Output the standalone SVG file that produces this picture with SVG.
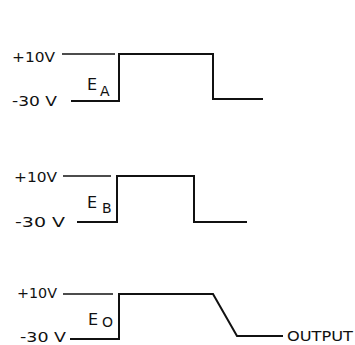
<svg xmlns="http://www.w3.org/2000/svg" width="355" height="345" viewBox="0 0 355 345">
<style>
text{font-family:"DejaVu Sans","Liberation Sans",sans-serif;fill:#111;font-size:14px}
.e{font-size:16px}
.sub{font-size:14px}
.ref{stroke:#111;stroke-width:1.4;fill:none}
.wave{stroke:#111;stroke-width:2;fill:none;stroke-linejoin:miter}
</style>
<rect width="355" height="345" fill="#fff"/>
<g id="EA">
<text x="12" y="62" textLength="43" lengthAdjust="spacingAndGlyphs">+10V</text>
<text x="12" y="106" textLength="45" lengthAdjust="spacingAndGlyphs">-30 V</text>
<text class="e" x="87" y="90">E</text>
<text class="sub" x="100" y="96">A</text>
</g>
<g id="EB">
<text x="14" y="182" textLength="43" lengthAdjust="spacingAndGlyphs">+10V</text>
<text x="15" y="227" textLength="50" lengthAdjust="spacingAndGlyphs">-30 V</text>
<text class="e" x="87" y="208">E</text>
<text class="sub" x="102" y="213">B</text>
</g>
<g id="EO">
<text x="17" y="298" textLength="40" lengthAdjust="spacingAndGlyphs">+10V</text>
<text x="20" y="342" textLength="46" lengthAdjust="spacingAndGlyphs">-30 V</text>
<text class="e" x="88" y="325">E</text>
<text class="sub" x="102" y="327">O</text>
<text x="287" y="341" textLength="66" lengthAdjust="spacingAndGlyphs">OUTPUT</text>
</g>
<g id="connectors">
<path class="ref" d="M62 54H115"/>
<path class="wave" d="M71 101H119V54H213V99H263"/>
<path class="ref" d="M63 176H111"/>
<path class="wave" d="M77 222H117V176H194V222H247"/>
<path class="ref" d="M63 294H113"/>
<path class="wave" d="M70 339H119V294H213L237 336H283"/>
</g>
</svg>
